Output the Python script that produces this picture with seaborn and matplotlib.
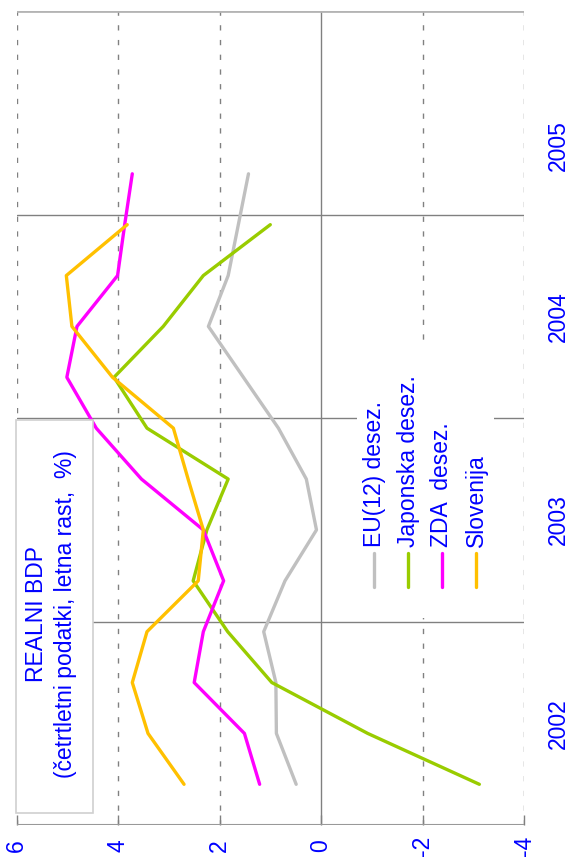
import numpy as np
import pandas as pd
import matplotlib
matplotlib.use("Agg")
import matplotlib.pyplot as plt
from matplotlib.lines import Line2D
from matplotlib.patches import Rectangle
import seaborn as sns

# ---------------- data ----------------
quarters = ["2002Q1", "2002Q2", "2002Q3", "2002Q4",
            "2003Q1", "2003Q2", "2003Q3", "2003Q4",
            "2004Q1", "2004Q2", "2004Q3", "2004Q4", "2005Q1"]
eu = [0.49, 0.88, 0.89, 1.13, 0.71, 0.09, 0.29, 0.84, 1.53, 2.22, 1.83, 1.63, 1.43]
japonska = [-3.12, -0.92, 0.97, 1.84, 2.52, 2.25, 1.83, 3.43, 4.08, 3.11, 2.32, 1.00]
zda = [1.21, 1.51, 2.50, 2.32, 1.92, 2.32, 3.54, 4.43, 5.01, 4.81, 4.01, 3.87, 3.72]
slovenija = [2.70, 3.41, 3.72, 3.43, 2.42, 2.32, 2.62, 2.91, 4.11, 4.91, 5.02, 3.82]
series_names = ["EU(12) desez.", "Japonska desez.", "ZDA  desez.", "Slovenija"]
value_ticks = [6, 4, 2, 0, -2, -4]
year_labels = ["2002", "2003", "2004", "2005"]
title_lines = ["REALNI BDP", "(četrtletni podatki, letna rast,  %)"]

colors = ["#c0c0c0", "#99cc00", "#ff00ff", "#ffc000"]

def q_pos(q):
    return int(q[:4]) + (int(q[5]) - 1) * 0.25 + 0.2

rows = []
for name, vals in zip(series_names, [eu, japonska, zda, slovenija]):
    for q, v in zip(quarters, vals):
        rows.append({"serija": name, "t": q_pos(q), "vrednost": v})
df = pd.DataFrame(rows)

# ---------------- figure ----------------
sns.set_style("white")
plt.rcParams["font.family"] = ["Liberation Sans", "DejaVu Sans"]

W, H = 580, 867
fig = plt.figure(figsize=(W / 100, H / 100), dpi=100)
def fx(px): return px / W
def fy(py): return 1 - py / H

ax = fig.add_axes([fx(16.6), fy(825), fx(524) - fx(16.6), fy(11) - fy(825)])

grid_c = "#808080"
dash = (0, (3.8, 6.8))
for v in value_ticks:
    if v == 0:
        ax.axvline(v, color=grid_c, lw=1.0, zorder=1)
    else:
        ax.axvline(v, color=grid_c, lw=1.0, ls=dash, zorder=1)
y0 = int(year_labels[0])
for k in range(1, len(year_labels)):
    ax.axhline(y0 + k, color=grid_c, lw=1.0, zorder=1)
ax.axhline(y0 + len(year_labels), color="#b4b4b4", lw=2.0, zorder=1)
ax.axhline(y0, color="#999999", lw=1.5, zorder=1)

sns.lineplot(data=df, x="vrednost", y="t", hue="serija", orient="y",
             sort=True, estimator=None, palette=colors, hue_order=series_names,
             lw=2.4, legend=False, ax=ax, zorder=3)

ax.set_xlim(value_ticks[0], value_ticks[-1])
ax.set_ylim(y0, y0 + len(year_labels))
for s in ax.spines.values():
    s.set_visible(False)
ax.set_xlabel("")
ax.set_ylabel("")

ax.set_xticks(value_ticks)
ax.set_xticklabels([str(v) for v in value_ticks], rotation=90, color="blue",
                   fontsize=16.5, va="center")
ax.tick_params(axis="x", direction="in", length=7, width=1.0, color=grid_c, pad=15,
               bottom=True)

ax.yaxis.tick_right()
ax.set_yticks([y0 + k for k in range(len(year_labels) + 1)])
ax.set_yticklabels([])
label_pos = [y0 + k + 0.5 for k in range(len(year_labels))]
label_pos[-1] -= 0.16
ax.set_yticks(label_pos, minor=True)
ax.set_yticklabels(year_labels, minor=True, rotation=90, color="blue",
                   fontsize=16.5, va="center", ha="center")
ax.tick_params(axis="y", which="both", length=0, pad=25)

# text box
fig.add_artist(Rectangle((fx(16), fy(813)), fx(93) - fx(16), fy(420) - fy(813),
                         transform=fig.transFigure, facecolor="white",
                         edgecolor="#d0d0d0", lw=1.2, zorder=5))
fig.text(fx(51), fy(614), "\n".join(title_lines), rotation=90, ha="center",
         va="center", multialignment="center", color="blue", fontsize=16.5,
         linespacing=1.3, zorder=6)

# legend
fig.add_artist(Rectangle((fx(357), fy(618)), fx(494) - fx(357), fy(342) - fy(618),
                         transform=fig.transFigure, facecolor="white",
                         edgecolor="none", zorder=5))
leg_x = [374, 408, 442, 476]
for name, c, lx in zip(series_names, colors, leg_x):
    fig.add_artist(Line2D([fx(lx), fx(lx)], [fy(587), fy(553)],
                          transform=fig.transFigure, color=c, lw=2.4, zorder=6))
    fig.text(fx(lx), fy(547), name, rotation=90, rotation_mode="anchor",
             ha="left", va="center", color="blue", fontsize=16.5, zorder=6)

fig.savefig("out.png", dpi=100)
